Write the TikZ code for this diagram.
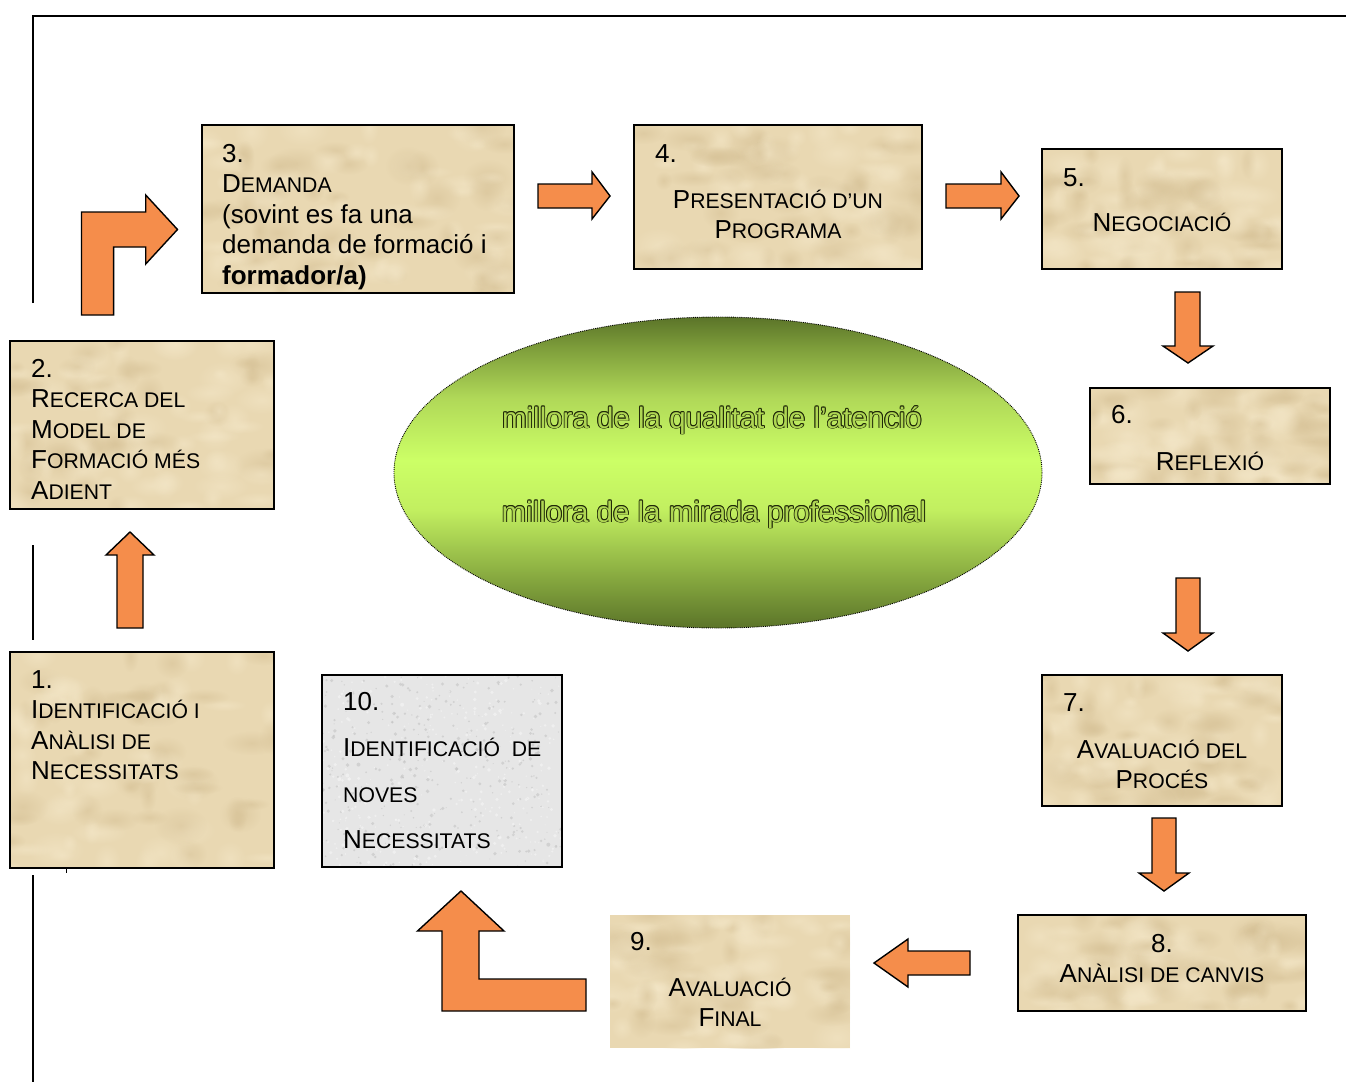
\documentclass[tikz,border=0pt]{standalone}
\usepackage{fontspec}
\setmainfont{Liberation Sans}
\usetikzlibrary{shapes.geometric,fadings}

\definecolor{paper}{HTML}{E9D8B2}
\definecolor{paperlight}{HTML}{F4E7C8}
\definecolor{paperdark}{HTML}{D6C196}
\definecolor{greybase}{HTML}{E6E6E6}
\definecolor{greyspot}{HTML}{C4C4C4}
\definecolor{greylight}{HTML}{F5F5F5}
\definecolor{arroworange}{HTML}{F58D4B}
\definecolor{rimdk}{HTML}{1F2808}
\definecolor{leaffill}{HTML}{AFD653}
\definecolor{leafdk}{HTML}{5B7429}
\definecolor{leafmidA}{HTML}{86A83F}
\definecolor{leafltB}{HTML}{C2EF60}
\definecolor{leaflt}{HTML}{CCFF66}
\definecolor{leafmidC}{HTML}{B0D858}
\definecolor{leafmidD}{HTML}{7E9E3B}

\tikzfading[name=softspot, inner color=transparent!0, outer color=transparent!100]

\pgfdeclareverticalshading{leafy}{100bp}{%
  color(0bp)=(leafdk); color(25bp)=(leafdk); color(33bp)=(leafmidA);
  color(44bp)=(leafltB); color(52bp)=(leaflt); color(62bp)=(leafmidC);
  color(70bp)=(leafmidD); color(75bp)=(leafdk); color(100bp)=(leafdk)}

% smaller capitals for the step titles
\newcommand\sm[1]{{\fontsize{21.2}{30.5}\selectfont #1}}

% hollow lettering: dark copies around, light copy on top
\newcommand\hollow[1]{\leavevmode
  \rlap{\color{rimdk}\kern0.9pt#1}%
  \rlap{\color{rimdk}\kern-0.9pt#1}%
  \rlap{\color{rimdk}\raisebox{0.9pt}{#1}}%
  \rlap{\color{rimdk}\raisebox{-0.9pt}{#1}}%
  \rlap{\color{rimdk}\kern0.65pt\raisebox{0.65pt}{#1}}%
  \rlap{\color{rimdk}\kern-0.65pt\raisebox{0.65pt}{#1}}%
  \rlap{\color{rimdk}\kern0.65pt\raisebox{-0.65pt}{#1}}%
  \rlap{\color{rimdk}\kern-0.65pt\raisebox{-0.65pt}{#1}}%
  {\color{leaffill}#1}}

% parchment surface
\newcommand\paperfill[4]{%
  \begin{scope}
    \clip (#1,#2) rectangle (#3,#4);
    \fill[paper] (#1,#2) rectangle (#3,#4);
    \foreach \k in {1,...,90}{%
      \pgfmathsetmacro\px{#1+rnd*(#3-#1)}%
      \pgfmathsetmacro\py{#2+rnd*(#4-#2)}%
      \pgfmathsetmacro\rx{8+rnd*22}%
      \pgfmathsetmacro\ry{6+rnd*14}%
      \pgfmathtruncatemacro\pick{rnd<0.55 ? 1 : 0}%
      \ifnum\pick=1 \def\blot{paperlight}\else\def\blot{paperdark}\fi
      \fill[\blot, fill opacity=0.55, path fading=softspot] (\px,\py) ellipse ({\rx} and {\ry});
    }
  \end{scope}}

% speckled grey surface
\newcommand\greyfill[4]{%
  \begin{scope}
    \clip (#1,#2) rectangle (#3,#4);
    \fill[greybase] (#1,#2) rectangle (#3,#4);
    \foreach \k in {1,...,700}{%
      \pgfmathsetmacro\px{#1+rnd*(#3-#1)}%
      \pgfmathsetmacro\py{#2+rnd*(#4-#2)}%
      \pgfmathsetmacro\rr{0.5+rnd*1.5}%
      \pgfmathtruncatemacro\pick{rnd<0.5 ? 1 : 0}%
      \ifnum\pick=1 \def\blot{greylight}\else\def\blot{greyspot}\fi
      \fill[\blot, fill opacity=0.6] (\px,\py) circle (\rr);
    }
  \end{scope}}

\newcommand\paperstage[6][]{%
  \paperfill{#3}{#4}{#5}{#6}%
  \node[boxframe,#1,anchor=north west,minimum width={(#5-#3)*1pt},minimum height={(#6-#4)*1pt}] (#2) at (#3,#4) {};}
\newcommand\greystage[6][]{%
  \greyfill{#3}{#4}{#5}{#6}%
  \node[boxframe,#1,anchor=north west,minimum width={(#5-#3)*1pt},minimum height={(#6-#4)*1pt}] (#2) at (#3,#4) {};}

\tikzset{
  boxframe/.style={draw=black, line width=1.6pt, inner sep=0pt, outer sep=0pt},
  txt/.style={inner sep=0pt, font=\fontsize{26}{30.5}\selectfont, align=left, anchor=base west},
  ctr/.style={inner sep=0pt, font=\fontsize{26}{30.5}\selectfont, align=center, anchor=base},
  blockarrow/.style={fill=arroworange, draw=black, line width=1.4pt, line join=miter},
  frameline/.style={line width=1.5pt}
}

\begin{document}
\begin{tikzpicture}[x=1pt,y=-1pt]
\pgfmathsetseed{11}
\fill[white] (0,0) rectangle (1346,1082);
\useasboundingbox (0,0) rectangle (1346,1082);

% outer frame lines
\draw[frameline] (33,303) -- (33,16) -- (1346,16);
\draw[frameline] (33,545) -- (33,640);
\draw[frameline] (33,875) -- (33,1082);
\draw[line width=1pt] (66,866) -- (66,873);

% step boxes
\paperstage{b1}{10}{652}{274}{868}
\paperstage{b2}{10}{341}{274}{509}
\paperstage{b3}{202}{125}{514}{293}
\paperstage{b4}{634}{125}{922}{269}
\paperstage{b5}{1042}{149}{1282}{269}
\paperstage{b6}{1090}{388}{1330}{484}
\paperstage{b7}{1042}{675}{1282}{806}
\paperstage{b8}{1018}{915}{1306}{1011}
\paperstage[draw=none]{b9}{610}{915}{850}{1048}
\greystage{b10}{322}{675}{562}{867}

% central ellipse
\node[ellipse, minimum width=648pt, minimum height=311pt, shade, shading=leafy,
      draw=black, densely dotted, line width=0.9pt] (core) at (718,472.5) {};
\node[inner sep=0pt, font=\fontsize{29.5}{30}\selectfont, anchor=base] (q1) at (712,428)
  {\hollow{millora de la qualitat de l’atenció}};
\node[inner sep=0pt, font=\fontsize{29.5}{30}\selectfont, anchor=base] (q2) at (714,522)
  {\hollow{millora de la mirada professional}};

% block arrows between the steps
\draw[blockarrow] (117,628) -- (117,555) -- (106,555) -- (130,532) -- (154,555) -- (143,555) -- (143,628) -- cycle;
\draw[blockarrow] (81.5,315) -- (81.5,212) -- (145.7,212) -- (145.7,195) -- (177.5,229.5) -- (145.7,264) -- (145.7,247) -- (113.6,247) -- (113.6,315) -- cycle;
\draw[blockarrow] (538,184) -- (592,184) -- (592,172) -- (610,196) -- (592,219) -- (592,208) -- (538,208) -- cycle;
\draw[blockarrow] (946,184) -- (1001,184) -- (1001,172) -- (1019,196) -- (1001,219) -- (1001,208) -- (946,208) -- cycle;
\draw[blockarrow] (1175,292) -- (1200,292) -- (1200,346) -- (1213,346) -- (1188,363) -- (1163,346) -- (1175,346) -- cycle;
\draw[blockarrow] (1176,578) -- (1200,578) -- (1200,633) -- (1213,633) -- (1188,651) -- (1163,633) -- (1176,633) -- cycle;
\draw[blockarrow] (1152,818) -- (1176,818) -- (1176,873) -- (1189,873) -- (1164,891) -- (1139,873) -- (1152,873) -- cycle;
\draw[blockarrow] (970,951) -- (908,951) -- (908,939) -- (874,963) -- (908,987) -- (908,975) -- (970,975) -- cycle;
\draw[blockarrow] (586,979) -- (479,979) -- (479,931) -- (504,931) -- (461,891) -- (417.5,931) -- (442,931) -- (442,1011) -- (586,1011) -- cycle;

% step texts (multi-line nodes sit on the baseline of their last line)
\node[txt] (t1) at (31,779.5) {1.\\I\sm{DENTIFICACIÓ I}\\A\sm{NÀLISI DE}\\N\sm{ECESSITATS}};
\node[txt] (t2) at (31,499) {2.\\R\sm{ECERCA DEL}\\M\sm{ODEL DE}\\F\sm{ORMACIÓ MÉS}\\A\sm{DIENT}};
\node[txt] (t3) at (222,284) {3.\\D\sm{EMANDA}\\(sovint es fa una\\demanda de formació i\\\textbf{formador/a)}};
\node[txt] (n4) at (655,162) {4.};
\node[ctr] (t4) at (778,238.5) {P\sm{RESENTACIÓ D’UN}\\P\sm{ROGRAMA}};
\node[txt] (n5) at (1063,186) {5.};
\node[ctr] (t5) at (1162,231) {N\sm{EGOCIACIÓ}};
\node[txt] (n6) at (1111,423) {6.};
\node[ctr] (t6) at (1210,470) {R\sm{EFLEXIÓ}};
\node[txt] (n7) at (1063,711) {7.};
\node[ctr] (t7) at (1162,788.5) {A\sm{VALUACIÓ DEL}\\P\sm{ROCÉS}};
\node[ctr] (t8) at (1162,982.5) {8.\\A\sm{NÀLISI DE CANVIS}};
\node[txt] (n9) at (630,950) {9.};
\node[ctr] (t9) at (730,1026.5) {A\sm{VALUACIÓ}\\F\sm{INAL}};
\node[txt, font=\fontsize{26}{46}\selectfont] (t10) at (343,848)
  {10.\\I\sm{DENTIFICACIÓ\ \ DE}\\\sm{NOVES}\\N\sm{ECESSITATS}};
\end{tikzpicture}
\end{document}
